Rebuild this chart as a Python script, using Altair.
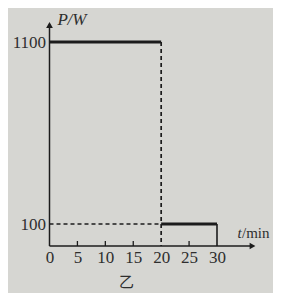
import altair as alt
import pandas as pd

# data
x_ticks = [0, 5, 10, 15, 20, 25, 30]
y_ticks = [100, 1100]
inner_ticks = [5, 10, 15, 25]
t_switch = 20
t_end = 30
p_high = 1100
p_low = 100

BG = "#d6d6d2"
INK = "#1c1c1c"
TXT = "#2e2e2e"

xs = alt.Scale(domain=[0, 30], range=[0, 167.5])
ys = alt.Scale(domain=[0, 100, 1100], range=[226, 204, 22])

x_axis = alt.Axis(values=x_ticks, domain=False, ticks=False, grid=False, format="d",
                  labelFont="Liberation Serif", labelFontSize=17, labelColor=TXT, labelPadding=3,
                  labelFlush=False, title=None)
y_axis = alt.Axis(values=y_ticks, domain=False, ticks=False, grid=False, format="d",
                  labelFont="Liberation Serif", labelFontSize=17, labelColor=TXT, labelPadding=4,
                  title=None)

solid = pd.DataFrame({
    "x": [0, t_switch],
    "x2": [t_switch, t_end],
    "y": [p_high, p_low],
    "y2": [p_high, p_low],
})
dashed = pd.DataFrame({
    "x": [t_switch, 0],
    "x2": [t_switch, t_switch],
    "y": [p_high, p_low],
    "y2": [0, p_low],
})
end_line = pd.DataFrame({"x": [t_end], "x2": [t_end], "y": [p_low], "y2": [0]})
ticks_df = pd.DataFrame({"x": inner_ticks})

X = lambda f="x": alt.X(f"{f}:Q", scale=xs, axis=x_axis)
Y = lambda f="y": alt.Y(f"{f}:Q", scale=ys, axis=y_axis)

solid_l = alt.Chart(solid).mark_rule(color=INK, strokeWidth=3).encode(
    x=X(), x2="x2:Q", y=Y(), y2="y2:Q")
dashed_l = alt.Chart(dashed).mark_rule(color=INK, strokeWidth=1.7, strokeDash=[4, 3]).encode(
    x=X(), x2="x2:Q", y=Y(), y2="y2:Q")
end_l = alt.Chart(end_line).mark_rule(color=INK, strokeWidth=1.6).encode(
    x=X(), x2="x2:Q", y=Y(), y2="y2:Q")

yaxis_line = alt.Chart(pd.DataFrame({"a": [0]})).mark_rule(color=INK, strokeWidth=1.5).encode(
    x=alt.value(0), y=alt.value(226), y2=alt.value(4))
xaxis_line = alt.Chart(pd.DataFrame({"a": [0]})).mark_rule(color=INK, strokeWidth=1.5).encode(
    x=alt.value(0), x2=alt.value(202), y=alt.value(226))
yarrow = alt.Chart(pd.DataFrame({"a": [0]})).mark_point(
    shape="triangle-up", filled=True, color=INK, size=45, opacity=1).encode(
    x=alt.value(0), y=alt.value(5))
xarrow = alt.Chart(pd.DataFrame({"a": [0]})).mark_point(
    shape="triangle-right", filled=True, color=INK, size=45, opacity=1).encode(
    x=alt.value(203), y=alt.value(226))
tick_l = alt.Chart(ticks_df).mark_rule(color=INK, strokeWidth=1.3).encode(
    x=X(), y=alt.value(226), y2=alt.value(221))

def txt(s, x, y, italic=False, size=17, font="Liberation Serif", align="left"):
    return alt.Chart(pd.DataFrame({"t": [s]})).mark_text(
        text=s, font=font, fontSize=size, fontStyle="italic" if italic else "normal",
        color=TXT, align=align, baseline="middle").encode(x=alt.value(x), y=alt.value(y))

labels = [
    txt("P", 8, 0, italic=True),
    txt("/W", 18, 0, italic=True),
    txt("t", 188, 213, italic=True, size=15),
    txt("/min", 192.5, 213, size=15),
    txt("乙", 77, 262, size=15, font="Noto Sans CJK SC", align="center"),
]

chart = alt.layer(dashed_l, solid_l, end_l, yaxis_line, xaxis_line, yarrow, xarrow,
                  tick_l, *labels).properties(
    width=210, height=226,
    autosize=alt.AutoSizeParams(type="none"),
    padding={"left": 41.5, "top": 12, "right": 13.5, "bottom": 47},
    background=BG,
).configure_view(stroke=None)

chart.save("out.html", embed_options={"renderer": "svg", "actions": False})
